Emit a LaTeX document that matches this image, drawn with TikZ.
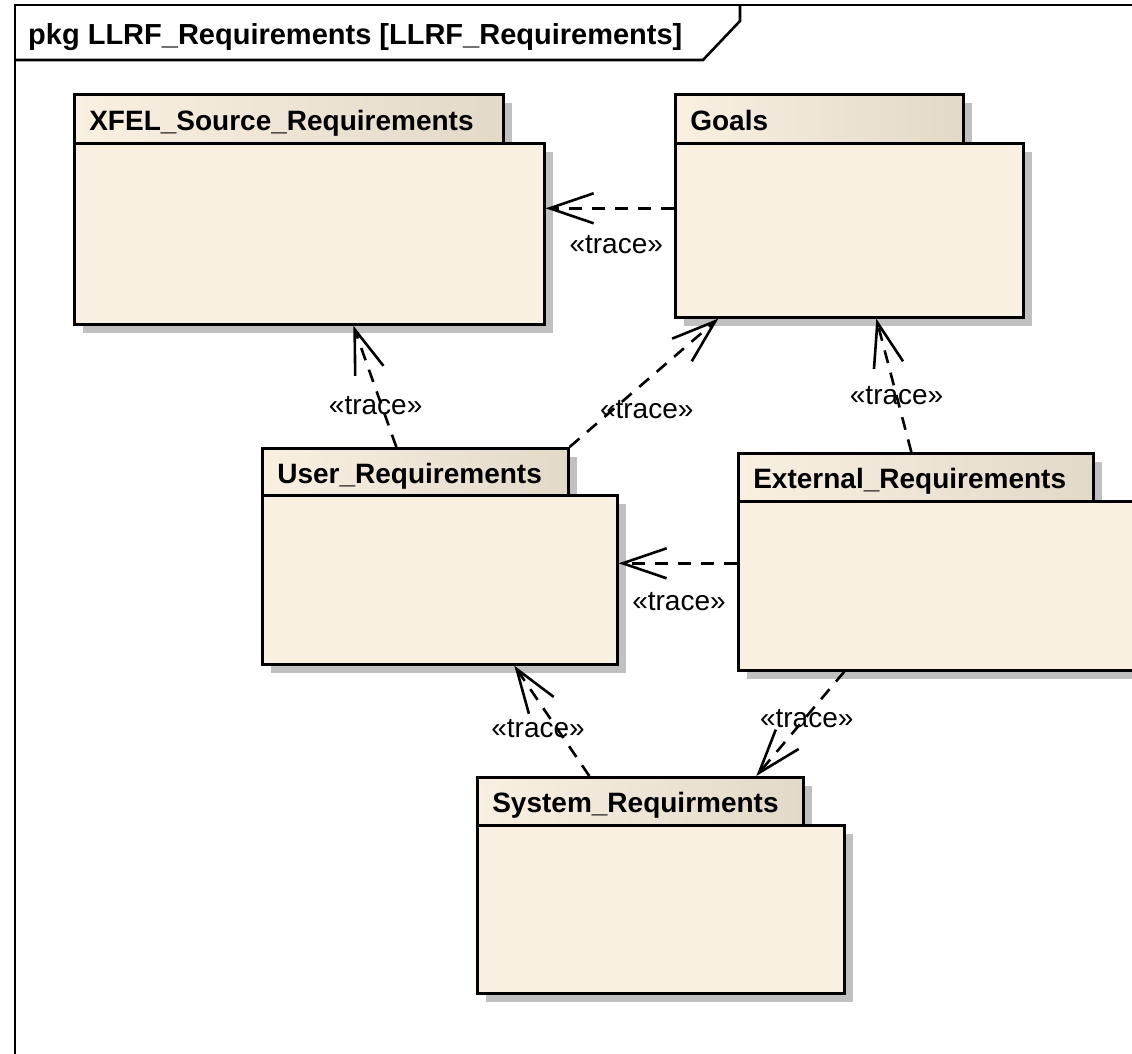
\documentclass[tikz,border=0pt]{standalone}
\usepackage{fontspec}
\setmainfont{Liberation Sans}
\usetikzlibrary{arrows.meta,shadows}

\definecolor{pkgfill}{RGB}{250,240,226}
\definecolor{pkgtabend}{RGB}{227,217,201}
\definecolor{pkgshade}{RGB}{192,192,192}

\tikzset{
  outline/.style={draw=black, line width=2.6pt},
  pkgshadow/.style={drop shadow={shadow xshift=9pt, shadow yshift=-9pt, fill=pkgshade, opacity=1}},
  pkgtab/.style={outline, pkgshadow, left color=pkgfill, right color=pkgtabend,
    anchor=north west, inner xsep=15pt, inner ysep=0pt, align=left,
    font=\fontsize{28}{32}\bfseries, text height=26pt, text depth=3pt},
  pkgbody/.style={outline, pkgshadow, fill=pkgfill, anchor=north west, inner sep=0pt},
  trace/.style={line width=2.6pt, dash pattern=on 13pt off 10pt,
    -{Straight Barb[length=44pt, width=30pt]}},
  tracelabel/.style={font=\fontsize{28}{32}\selectfont, inner sep=0pt},
}

\begin{document}
\begin{tikzpicture}[x=1pt, y=-1pt]
  \useasboundingbox (0,0) rectangle (1132,1054);
  \clip (0,0) rectangle (1132,1054);
  \fill[white] (0,0) rectangle (1132,1054);

  % diagram frame with its name tab
  \draw[outline] (15,1070) -- (15,5) -- (1150,5);
  \draw[outline] (15,60) -- (703,60) -- (740,21) -- (740,5);
  \node[anchor=base west, inner sep=0pt, font=\fontsize{29}{32}\bfseries]
    (title) at (28,45) {pkg LLRF\_Requirements [LLRF\_Requirements]};

  % packages: tab first, then body
  \node[pkgtab, minimum width=429pt, text width=399pt, minimum height=49pt]
    (xfelT) at (73,93) {XFEL\_Source\_Requirements};
  \node[pkgbody, minimum width=470pt, minimum height=181pt] (xfelB) at (73,142) {};

  \node[pkgtab, minimum width=288pt, text width=258pt, minimum height=49pt]
    (goalsT) at (674,93) {Goals};
  \node[pkgbody, minimum width=348pt, minimum height=174pt] (goalsB) at (674,142) {};

  \node[pkgtab, minimum width=306pt, text width=276pt, minimum height=47pt]
    (userT) at (261,447) {User\_Requirements};
  \node[pkgbody, minimum width=355pt, minimum height=169pt] (userB) at (261,494) {};

  \node[pkgtab, minimum width=355pt, text width=325pt, minimum height=48pt]
    (extT) at (737,452) {External\_Requirements};
  \node[pkgbody, minimum width=411pt, minimum height=169pt] (extB) at (737,500) {};

  \node[pkgtab, minimum width=326pt, text width=296pt, minimum height=48pt]
    (sysT) at (476,776) {System\_Requirments};
  \node[pkgbody, minimum width=367pt, minimum height=168pt] (sysB) at (476,824) {};

  % trace dependencies
  \draw[trace] ([yshift=22pt]goalsB.west) -- ([yshift=25.5pt]xfelB.east)
    node[tracelabel, pos=0.45, yshift=-36pt] (lab1) {«trace»};
  \draw[trace] ([xshift=-19pt]userT.north) -- ([xshift=44pt]xfelB.south)
    node[tracelabel, pos=0.34, xshift=-6pt] (lab2) {«trace»};
  \draw[trace] (userT.north east) -- ([xshift=-131pt]goalsB.south)
    node[tracelabel, pos=0.29, xshift=34pt] (lab3) {«trace»};
  \draw[trace] ([xshift=-4.5pt]extT.north) -- ([xshift=27pt]goalsB.south)
    node[tracelabel, pos=0.42] (lab4) {«trace»};
  \draw[trace] ([yshift=22.5pt]extB.west) -- ([yshift=16.5pt]userB.east)
    node[tracelabel, pos=0.49, yshift=-38pt] (lab5) {«trace»};
  \draw[trace] ([xshift=-51pt]sysT.north) -- ([xshift=74.5pt]userB.south)
    node[tracelabel, pos=0.43, xshift=-19pt] (lab6) {«trace»};
  \draw[trace] ([xshift=-99.5pt]extB.south) -- ([xshift=116pt]sysT.north)
    node[tracelabel, pos=0.45, xshift=2pt] (lab7) {«trace»};
\end{tikzpicture}
\end{document}
